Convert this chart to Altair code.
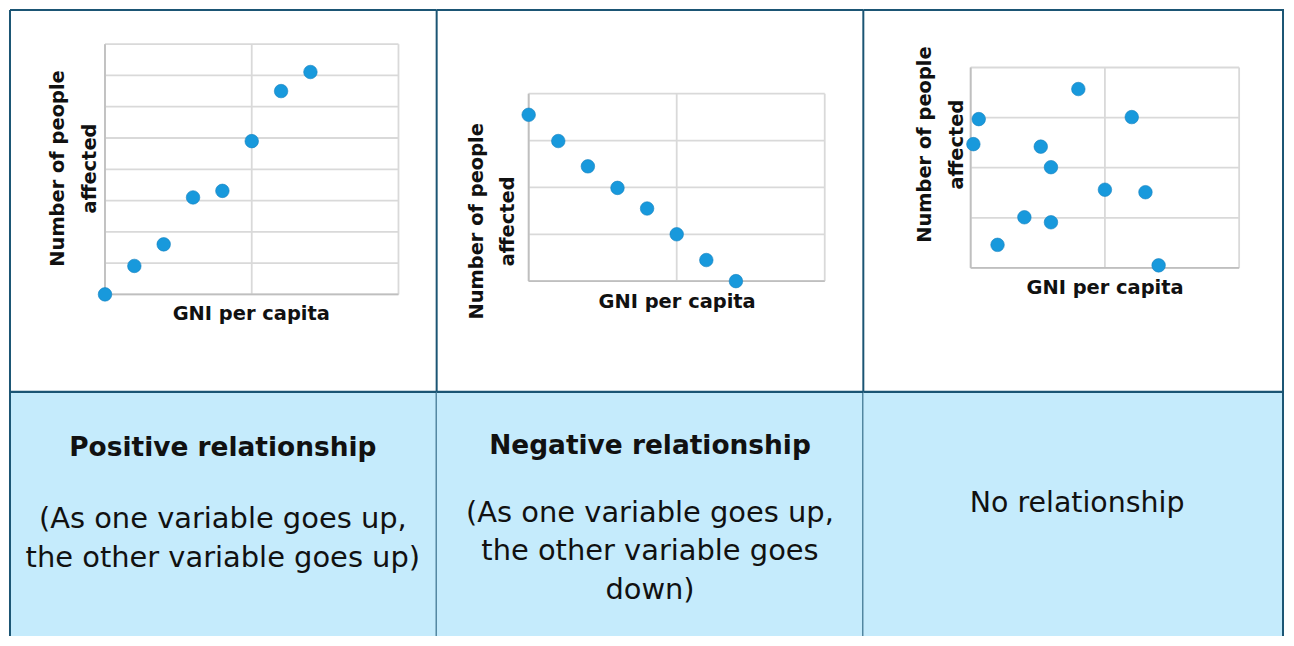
import altair as alt
import pandas as pd

# ---------------- data ----------------
pos_x = [0, 1, 2, 3, 4, 5, 6, 7]
pos_y = [0, 0.91, 1.60, 3.10, 3.31, 4.90, 6.50, 7.11]

neg_x = [0, 1, 2, 3, 4, 5, 6, 7]
neg_y = [3.55, 2.99, 2.45, 1.99, 1.55, 1.00, 0.45, 0]

none_x = [4.01, 0.30, 6.00, 0.10, 2.61, 2.99, 5.00, 6.51, 2.00, 2.99, 1.00, 7.00]
none_y = [3.57, 2.97, 3.01, 2.47, 2.42, 2.01, 1.56, 1.51, 1.01, 0.91, 0.46, 0.05]

x_grid_ticks = [0, 5, 10]
pos_y_ticks = [0, 1, 2, 3, 4, 5, 6, 7, 8]
neg_y_ticks = [0, 1, 2, 3, 4]
none_y_ticks = [0, 1, 2, 3, 4]

x_title = "GNI per capita"
y_title = ["Number of people", "affected"]

headings = ["Positive relationship", "Negative relationship", "No relationship"]
bodies = [
    ["(As one variable goes up,", "the other variable goes up)"],
    ["(As one variable goes up,", "the other variable goes", "down)"],
    [],
]

# ---------------- styling ----------------
H = 628
BORDER = "#1b5574"
CELL = "#c5ebfc"
GRID = "#d9d9d9"
AXIS = "#bfbfbf"
PT = "#1899dc"
TXT = "#111111"
FONT = "DejaVu Sans"
DIV_Y = 383
one = pd.DataFrame({"a": [0]})


def column(W, xs, ys, yticks, xr, yr, ytpos, xtpos, cx, heading, hbold, hy, body, by,
           left_border, right_x):
    xsc = alt.Scale(domain=[0, 10], range=xr, nice=False, zero=False)
    ysc = alt.Scale(domain=[0, yticks[-1]], range=yr, nice=False, zero=False)
    layers = []
    layers.append(
        alt.Chart(one).mark_rect(color=CELL).encode(
            x=alt.value(0), x2=alt.value(W), y=alt.value(DIV_Y), y2=alt.value(H)
        )
    )
    # horizontal grid
    layers.append(
        alt.Chart(pd.DataFrame({"v": yticks})).mark_rule(color=GRID, strokeWidth=1.8).encode(
            y=alt.Y("v:Q", scale=ysc, axis=None), x=alt.value(xr[0]), x2=alt.value(xr[1])
        )
    )
    # vertical grid
    layers.append(
        alt.Chart(pd.DataFrame({"v": x_grid_ticks})).mark_rule(color=GRID, strokeWidth=1.8).encode(
            x=alt.X("v:Q", scale=xsc, axis=None), y=alt.value(yr[1]), y2=alt.value(yr[0])
        )
    )
    # left & bottom axis lines
    layers.append(
        alt.Chart(pd.DataFrame({"v": [0]})).mark_rule(color=AXIS, strokeWidth=1.8).encode(
            x=alt.X("v:Q", scale=xsc, axis=None), y=alt.value(yr[1]), y2=alt.value(yr[0])
        )
    )
    layers.append(
        alt.Chart(pd.DataFrame({"v": [0]})).mark_rule(color=AXIS, strokeWidth=1.8).encode(
            y=alt.Y("v:Q", scale=ysc, axis=None), x=alt.value(xr[0]), x2=alt.value(xr[1])
        )
    )
    # points
    layers.append(
        alt.Chart(pd.DataFrame({"x": xs, "y": ys})).mark_circle(
            size=185, color=PT, opacity=1, stroke="#1581c0", strokeWidth=0.6
        ).encode(
            x=alt.X("x:Q", scale=xsc, axis=None), y=alt.Y("y:Q", scale=ysc, axis=None)
        )
    )
    # axis titles
    layers.append(
        alt.Chart(one).mark_text(
            text=y_title, angle=270, align="center", baseline="alphabetic",
            font=FONT, fontWeight="bold", fontSize=19.5, lineHeight=32, color=TXT
        ).encode(x=alt.value(ytpos[0]), y=alt.value(ytpos[1]))
    )
    layers.append(
        alt.Chart(one).mark_text(
            text=x_title, align="center", baseline="alphabetic",
            font=FONT, fontWeight="bold", fontSize=19.5, color=TXT
        ).encode(x=alt.value(xtpos[0]), y=alt.value(xtpos[1]))
    )
    # lower cell texts
    layers.append(
        alt.Chart(one).mark_text(
            text=heading, align="center", baseline="alphabetic", font=FONT,
            fontWeight="bold" if hbold else "normal", fontSize=26.5 if hbold else 28.5,
            color=TXT
        ).encode(x=alt.value(cx), y=alt.value(hy))
    )
    if body:
        layers.append(
            alt.Chart(one).mark_text(
                text=body, align="center", baseline="alphabetic", font=FONT,
                fontSize=29, lineHeight=38.5, color=TXT
            ).encode(x=alt.value(cx), y=alt.value(by))
        )
    # borders
    layers.append(
        alt.Chart(one).mark_rule(color=BORDER, strokeWidth=2).encode(
            x=alt.value(0), x2=alt.value(W), y=alt.value(0)
        )
    )
    layers.append(
        alt.Chart(one).mark_rule(color=BORDER, strokeWidth=2.2).encode(
            x=alt.value(0), x2=alt.value(W), y=alt.value(DIV_Y)
        )
    )
    if left_border:
        layers.append(
            alt.Chart(one).mark_rule(color=BORDER, strokeWidth=2).encode(
                x=alt.value(0), y=alt.value(0), y2=alt.value(H)
            )
        )
    layers.append(
        alt.Chart(one).mark_rule(color=BORDER, strokeWidth=2).encode(
            x=alt.value(right_x), y=alt.value(0), y2=alt.value(H)
        )
    )
    return alt.layer(*layers).properties(width=W, height=H)


c1 = column(428, pos_x, pos_y, pos_y_ticks, [95.3, 389.7], [285.3, 34.3],
            (54.5, 159), (242, 311.3), 213.5, headings[0], True, 447.5, bodies[0], 520,
            True, 428)
c2 = column(428, neg_x, neg_y, neg_y_ticks, [92.3, 389.3], [272, 84],
            (46, 212), (241.2, 298.7), 214, headings[1], True, 445, bodies[1], 513.5,
            False, 428)
c3 = column(422, none_x, none_y, none_y_ticks, [107.7, 377], [258.7, 57.7],
            (67.7, 135), (242.5, 285.3), 214.5, headings[2], False, 504, bodies[2], 0,
            False, 421)

chart = (
    alt.hconcat(c1, c2, c3, spacing=0, bounds="flush")
    .properties(padding=0, background="white")
    .configure_view(strokeWidth=0)
)

chart.save("out.html", embed_options={"renderer": "svg", "actions": False})
